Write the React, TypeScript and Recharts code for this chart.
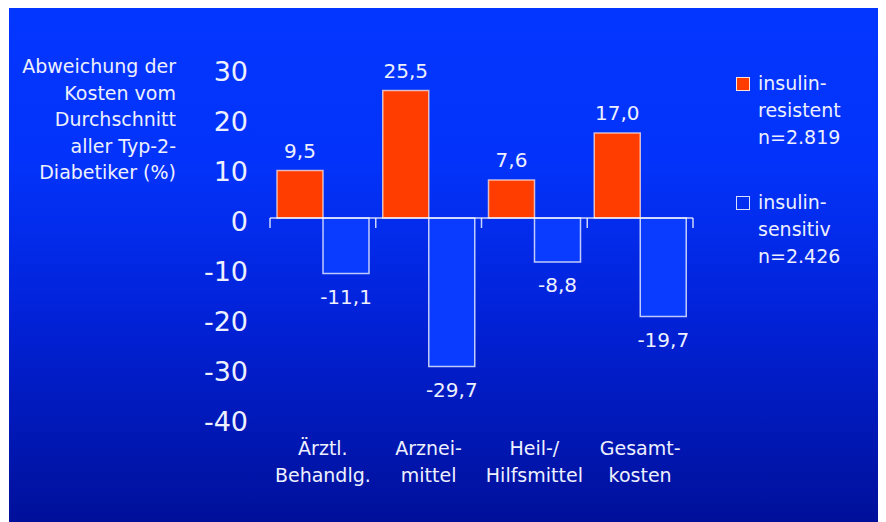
import React from "react";
import { BarChart, Bar, XAxis, YAxis, ReferenceLine, LabelList, Legend } from "recharts";

const categories = ["Ärztl.\nBehandlg.", "Arznei-\nmittel", "Heil-/\nHilfsmittel", "Gesamt-\nkosten"];
const resistentValues = [9.5, 25.5, 7.6, 17.0];
const sensitivValues = [-11.1, -29.7, -8.8, -19.7];
const yTicks = [30, 20, 10, 0, -10, -20, -30, -40];
const yTitleLines = ["Abweichung der", "Kosten vom", "Durchschnitt", "aller Typ-2-", "Diabetiker (%)"];
const legendItems = [
  { key: "resistent", lines: ["insulin-", "resistent", "n=2.819"] },
  { key: "sensitiv", lines: ["insulin-", "sensitiv", "n=2.426"] },
];

const data = categories.map((c, i) => ({ cat: c, resistent: resistentValues[i], sensitiv: sensitivValues[i] }));

const FONT = "'DejaVu Sans', Verdana, sans-serif";
const TXT = "#eef0ff";
const ORANGE = "#ff3d00";
const BLUEBAR = "#0a3cff";

const fmt = (v: number) => v.toFixed(1).replace(".", ",");

const ValueLabel = (props: any) => {
  const { x, y, width, height, value } = props;
  const top = Math.min(y, y + height);
  const bottom = Math.max(y, y + height);
  const cx = x + width / 2;
  const pos = value >= 0;
  return (
    <text
      x={cx}
      y={pos ? top - 13 : bottom + 30}
      textAnchor="middle"
      fill={TXT}
      fontFamily={FONT}
      fontSize={20}
    >
      {fmt(value)}
    </text>
  );
};

const XTick = (props: any) => {
  const { x, y, payload } = props;
  const lines = String(payload.value).split("\n");
  return (
    <text x={x} y={y} textAnchor="middle" fill={TXT} fontFamily={FONT} fontSize={19}>
      {lines.map((l, i) => (
        <tspan key={i} x={x} dy={i === 0 ? 37 : 27}>
          {l}
        </tspan>
      ))}
    </text>
  );
};

const YTick = (props: any) => {
  const { x, y, payload } = props;
  return (
    <text x={x} y={y} dy={13} textAnchor="end" fill={TXT} fontFamily={FONT} fontSize={27}>
      {payload.value}
    </text>
  );
};

const YTitle = (props: any) => {
  const vb = props.viewBox || { x: 0, y: 0 };
  const rx = vb.x + 167;
  return (
    <text x={rx} y={65} textAnchor="end" fill={TXT} fontFamily={FONT} fontSize={19}>
      {yTitleLines.map((l, i) => (
        <tspan key={i} x={rx} dy={i === 0 ? 0 : 26.5}>
          {l}
        </tspan>
      ))}
    </text>
  );
};

const LegendContent = () => (
  <div style={{ fontFamily: FONT, fontSize: 19, color: TXT, lineHeight: "27px" }}>
    {legendItems.map((it, idx) => (
      <div key={it.key} style={{ position: "relative", paddingLeft: 22, marginTop: idx === 0 ? 0 : 38 }}>
        <div
          style={{
            position: "absolute",
            left: 0,
            top: 7,
            width: 12,
            height: 12,
            background: idx === 0 ? ORANGE : "transparent",
            border: "1px solid rgba(255,255,255,0.85)",
          }}
        />
        {it.lines.map((l, i) => (
          <div key={i}>{l}</div>
        ))}
      </div>
    ))}
  </div>
);

export default function App() {
  return (
    <div
      style={{
        width: 878,
        height: 514,
        marginLeft: 1,
        background: "linear-gradient(to bottom, #0336ff 0%, #0333fa 30%, #0222d8 60%, #00109a 100%)",
        position: "relative",
      }}
    >
      <BarChart
        width={877}
        height={514}
        data={data}
        margin={{ top: 60, right: 193, bottom: 44, left: 0 }}
        barGap={0}
        barSize={46}
      >
        <XAxis
          dataKey="cat"
          axisLine={false}
          tickLine={false}
          tickSize={0}
          tickMargin={0}
          height={60}
          interval={0}
          tick={<XTick />}
        />
        <YAxis
          width={261}
          domain={[-40, 30]}
          ticks={yTicks}
          axisLine={false}
          tickLine={false}
          tickSize={0}
          tickMargin={22}
          interval={0}
          tick={<YTick />}
          label={<YTitle />}
        />
        <Legend
          layout="vertical"
          align="center"
          verticalAlign="middle"
          wrapperStyle={{ top: 62, left: 727, width: 140 }}
          content={<LegendContent />}
        />
        <Bar dataKey="resistent" fill={ORANGE} stroke="rgba(255,230,220,0.75)" strokeWidth={1.5} isAnimationActive={false}>
          <LabelList dataKey="resistent" content={<ValueLabel />} />
        </Bar>
        <Bar dataKey="sensitiv" fill={BLUEBAR} stroke="rgba(255,255,255,0.75)" strokeWidth={1.5} isAnimationActive={false}>
          <LabelList dataKey="sensitiv" content={<ValueLabel />} />
        </Bar>
        <ReferenceLine y={0} stroke="rgba(255,255,255,0.8)" strokeWidth={1.5} />
        {categories.map((c) => (
          <ReferenceLine
            key={c}
            segment={[{ x: c, y: 0 }, { x: c, y: -2 }]}
            position="start"
            stroke="rgba(255,255,255,0.8)"
            strokeWidth={1.5}
          />
        ))}
        <ReferenceLine
          segment={[{ x: categories[categories.length - 1], y: 0 }, { x: categories[categories.length - 1], y: -2 }]}
          position="end"
          stroke="rgba(255,255,255,0.8)"
          strokeWidth={1.5}
        />
      </BarChart>
    </div>
  );
}
